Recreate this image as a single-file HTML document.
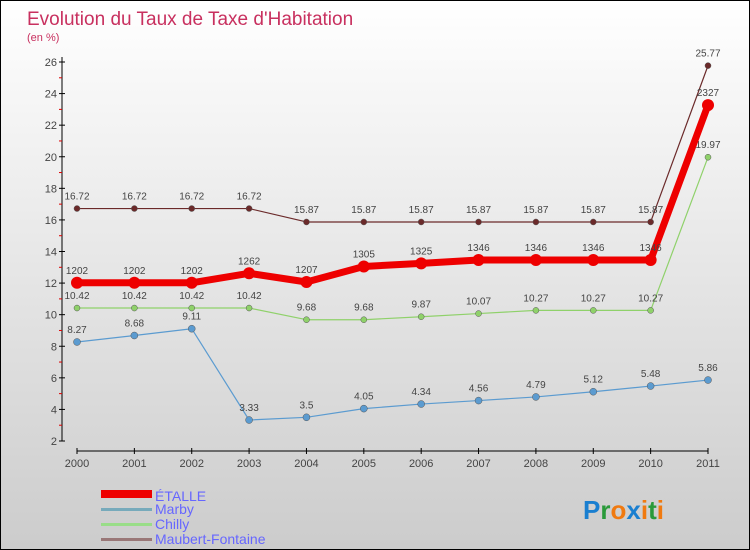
<!DOCTYPE html>
<html><head><meta charset="utf-8"><style>
body{margin:0}
#c{width:750px;height:550px;position:relative;overflow:hidden;background:linear-gradient(#fff,#ccc);box-sizing:border-box;border:1px solid #000;font-family:"Liberation Sans",sans-serif}
</style></head><body>
<div id="c">
<svg id="s" width="750" height="550" style="position:absolute;left:0;top:0">
<text x="26" y="24" font-size="19" fill="#c8305f">Evolution du Taux de Taxe d'Habitation</text>
<text x="26" y="40" font-size="11" fill="#c8305f">(en %)</text>
<g id="g"></g>
<g>
<rect x="100" y="489" width="51" height="8" fill="#e00"/>
<text x="154" y="500" font-size="14" fill="#66f">ÉTALLE</text>
<rect x="100" y="507" width="51" height="3" fill="#7ab"/>
<text x="154" y="513" font-size="14" fill="#66f">Marby</text>
<rect x="100" y="522" width="51" height="3" fill="#9d8"/>
<text x="154" y="528" font-size="14" fill="#66f">Chilly</text>
<rect x="100" y="537" width="51" height="3" fill="#977"/>
<text x="154" y="543" font-size="14" fill="#66f">Maubert-Fontaine</text>
</g>
<text x="582" y="518" font-size="26" font-weight="bold"><tspan fill="#1a7fd0">P</tspan><tspan fill="#2a9a3a">r</tspan><tspan fill="#f07a10">o</tspan><tspan fill="#1a7fd0">x</tspan><tspan fill="#f07a10">i</tspan><tspan fill="#2a9a3a">t</tspan><tspan fill="#f07a10">i</tspan></text>
</svg>
</div>
<script>
const years=["2000","2001","2002","2003","2004","2005","2006","2007","2008","2009","2010","2011"];
const yTicks=[2,4,6,8,10,12,14,16,18,20,22,24,26];
const etalle=[12.02,12.02,12.02,12.62,12.07,13.05,13.25,13.46,13.46,13.46,13.46,23.27];
const marby=[8.27,8.68,9.11,3.33,3.5,4.05,4.34,4.56,4.79,5.12,5.48,5.86];
const chilly=[10.42,10.42,10.42,10.42,9.68,9.68,9.87,10.07,10.27,10.27,10.27,19.97];
const maubert=[16.72,16.72,16.72,16.72,15.87,15.87,15.87,15.87,15.87,15.87,15.87,25.77];
const NS="http://www.w3.org/2000/svg",g=document.getElementById('g');
const xs=i=>76+i*(707-76)/(years.length-1);
const ys=v=>440-(v-2)*(440-61)/24;
function el(t,a,p){const e=document.createElementNS(NS,t);for(const k in a)e.setAttribute(k,a[k]);(p||g).appendChild(e);return e;}
let e=el('line',{x1:61,y1:56,x2:61,y2:440,stroke:'#000','stroke-width':1});


e=el('line',{x1:76,y1:450,x2:707,y2:450,stroke:'#000','stroke-width':1});


yTicks.forEach((v,i)=>{
 el('line',{x1:58,x2:64,y1:ys(v),y2:ys(v),stroke:'#000'});
 if(i<yTicks.length-1)el('line',{x1:58,x2:61,y1:ys(v+1),y2:ys(v+1),stroke:'#d00'});
 const t=el('text',{x:56,y:ys(v)+4,'font-size':11,fill:'#444','text-anchor':'end'});t.textContent=v;
 
 
});
years.forEach((y,i)=>{
 el('line',{x1:xs(i),x2:xs(i),y1:447,y2:453,stroke:'#000'});
 const t=el('text',{x:xs(i),y:466,'font-size':11,fill:'#444','text-anchor':'middle'});t.textContent=y;
 
 
});
function series(d,col,w,r,name,fmt){
 const p=el('polyline',{points:d.map((v,i)=>xs(i)+','+ys(v)).join(' '),fill:'none',stroke:col,'stroke-width':w,'stroke-linejoin':'round'});
 
 
 d.forEach((v,i)=>{
  const c=el('circle',{cx:xs(i),cy:ys(v),r:r,fill:col,stroke:w>3?'none':'#555','stroke-width':0.5});
  
  
  const t=el('text',{x:xs(i),y:ys(v)-9,'font-size':10,fill:'#444','text-anchor':'middle'});t.textContent=fmt?fmt(v):v;
  
  
 });
}
const nodot=v=>String(v).replace('.','');
series(maubert,'#6b2a2a',1.2,3,'maubert-fontaine');
series(chilly,'#8fd16a',1.2,3,'chilly');
series(marby,'#5b9bd0',1.2,3.5,'marby');
series(etalle,'#ee0000',7,6,'etalle',nodot);
</script>
</body></html>
